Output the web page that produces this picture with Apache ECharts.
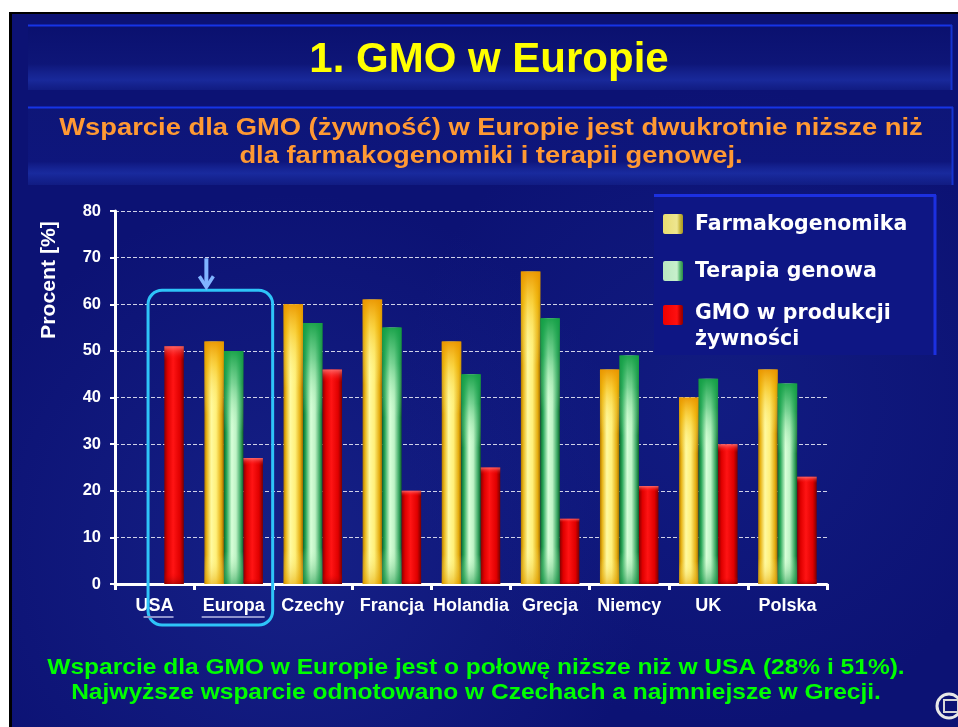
<!DOCTYPE html>
<html>
<head>
<meta charset="utf-8">
<script src="https://cdn.jsdelivr.net/npm/echarts@6/dist/echarts.min.js"></script>
<style>
html,body{margin:0;padding:0;background:#fff;}
#chart{width:958px;height:727px;}
</style>
</head>
<body>
<div id="chart"></div>
<script>
// ---- data ----
const categories = ['USA', 'Europa', 'Czechy', 'Francja', 'Holandia', 'Grecja', 'Niemcy', 'UK', 'Polska'];
const farmakogenomika = [null, 52, 60, 61, 52, 67, 46, 40, 46];
const terapiaGenowa = [null, 50, 56, 55, 45, 57, 49, 44, 43];
const gmoZywnosc = [51, 27, 46, 20, 25, 14, 21, 30, 23];
const seriesNames = ['Farmakogenomika', 'Terapia genowa', 'GMO w produkcji żywności'];
const legendLabels = ['Farmakogenomika', 'Terapia genowa', 'GMO w produkcji\nżywności'];
const titleText = '1. GMO w Europie';
const subtitleText = 'Wsparcie dla GMO (żywność) w Europie jest dwukrotnie niższe niż\ndla farmakogenomiki i terapii genowej.';
const footerText = 'Wsparcie dla GMO w Europie jest o połowę niższe niż w USA (28% i 51%).\nNajwyższe wsparcie odnotowano w Czechach a najmniejsze w Grecji.';
const yAxisName = 'Procent [%]';

const FONT = '"Liberation Sans", Arial, sans-serif';
const LFONT = '"DejaVu Sans", Verdana, sans-serif';

function hGrad(stops) {
  return new echarts.graphic.LinearGradient(0, 0, 1, 0, stops.map(c => ({offset: c[0], color: c[1]})));
}
function vGrad(stops) {
  return new echarts.graphic.LinearGradient(0, 0, 0, 1, stops.map(c => ({offset: c[0], color: c[1]})));
}

const yellowH = hGrad([[0, '#b07800'], [0.12, '#e8b418'], [0.35, '#fffaa0'], [0.6, '#fff07a'], [0.86, '#e4ac10'], [1, '#9a6a00']]);
const greenH = hGrad([[0, '#0b6a2c'], [0.14, '#2aa85a'], [0.4, '#d8ffd8'], [0.62, '#bff3c6'], [0.86, '#3aa864'], [1, '#0d5e28']]);
const redH = hGrad([[0, '#8a0000'], [0.18, '#e00000'], [0.45, '#ff1414'], [0.8, '#e00000'], [1, '#7a0000']]);

const yellowV = vGrad([[0, 'rgba(235,150,0,0.95)'], [0.1, 'rgba(245,185,10,0.55)'], [0.3, 'rgba(255,255,160,0)'], [0.88, 'rgba(255,255,160,0)'], [1, 'rgba(225,160,0,0.55)']]);
const greenV = vGrad([[0, 'rgba(20,160,70,0.95)'], [0.14, 'rgba(40,175,90,0.5)'], [0.35, 'rgba(200,255,200,0)'], [0.86, 'rgba(200,255,200,0)'], [1, 'rgba(30,150,75,0.6)']]);
const redV = vGrad([[0, 'rgba(255,130,130,0.75)'], [0.025, 'rgba(255,90,90,0.35)'], [0.06, 'rgba(255,0,0,0)'], [0.95, 'rgba(255,0,0,0)'], [1, 'rgba(120,0,0,0.5)']]);

const BW = 19.5;

function mainSeries(name, data, color) {
  return {
    name: name, type: 'bar', data: data, xAxisIndex: 0,
    barWidth: BW, barGap: '0%',
    itemStyle: {color: color, shadowColor: 'rgba(0,0,0,0.35)', shadowBlur: 3, shadowOffsetX: 2},
    z: 2
  };
}
function overlaySeries(data, color) {
  return {
    type: 'bar', data: data, xAxisIndex: 1, silent: true,
    barWidth: BW, barGap: '0%',
    itemStyle: {color: color},
    z: 3
  };
}

const chart = echarts.init(document.getElementById('chart'), null, {renderer: 'canvas'});

const bgGraphics = [
  // blue slide background
  {type: 'rect', z: -100, shape: {x: 12, y: 14, width: 946, height: 713}, style: {fill: '#0c1274'}},
  {type: 'rect', z: -100, shape: {x: 9, y: 12, width: 949, height: 2}, style: {fill: '#000'}},
  {type: 'rect', z: -100, shape: {x: 9, y: 12, width: 3, height: 715}, style: {fill: '#000'}},
  // texture blobs
  {type: 'rect', z: -99, shape: {x: 12, y: 14, width: 946, height: 713},
    style: {fill: new echarts.graphic.RadialGradient(0.3, 0.75, 0.5, [{offset: 0, color: 'rgba(40,60,170,0.35)'}, {offset: 1, color: 'rgba(40,60,170,0)'}])}},
  {type: 'rect', z: -99, shape: {x: 12, y: 14, width: 946, height: 713},
    style: {fill: new echarts.graphic.RadialGradient(0.75, 0.55, 0.45, [{offset: 0, color: 'rgba(30,50,160,0.3)'}, {offset: 1, color: 'rgba(30,50,160,0)'}])}},
  // title band
  {type: 'rect', z: -98, shape: {x: 28, y: 25, width: 924, height: 65},
    style: {fill: vGrad([[0, 'rgba(10,16,110,0.9)'], [0.6, 'rgba(14,22,120,0.9)'], [0.85, 'rgba(30,50,170,0.7)'], [1, 'rgba(20,34,140,0.6)']])}},
  {type: 'line', z: -97, shape: {x1: 28, y1: 25.5, x2: 952, y2: 25.5}, style: {stroke: '#1634e6', lineWidth: 2}},
  {type: 'line', z: -97, shape: {x1: 951.5, y1: 25, x2: 951.5, y2: 90}, style: {stroke: '#1634d0', lineWidth: 2}},
  // subtitle band
  {type: 'rect', z: -98, shape: {x: 28, y: 107, width: 925, height: 78},
    style: {fill: vGrad([[0, 'rgba(14,22,120,0.9)'], [0.7, 'rgba(14,22,125,0.9)'], [0.85, 'rgba(30,52,175,0.7)'], [1, 'rgba(20,34,140,0.6)']])}},
  {type: 'line', z: -97, shape: {x1: 28, y1: 107.5, x2: 953, y2: 107.5}, style: {stroke: '#1634e6', lineWidth: 2}},
  {type: 'line', z: -97, shape: {x1: 952.5, y1: 107, x2: 952.5, y2: 185}, style: {stroke: '#1634d0', lineWidth: 2}},
  // texts
  {type: 'text', z: 50, x: 489, y: 60, style: {text: titleText, fill: '#ffff00', font: 'bold 42px ' + FONT, align: 'center', verticalAlign: 'middle'}},
  {type: 'text', z: 50, x: 491, y: 142, scaleX: 1.14, style: {text: subtitleText, fill: '#ff9933', font: 'bold 24px ' + FONT, align: 'center', verticalAlign: 'middle', lineHeight: 28}},
  {type: 'text', z: 50, x: 476, y: 680, scaleX: 1.115, style: {text: footerText, fill: '#00ff00', font: 'bold 22px ' + FONT, align: 'center', verticalAlign: 'middle', lineHeight: 25}},
  {type: 'text', z: 50, x: 49, y: 280, rotation: Math.PI / 2, scaleX: 1.06, style: {text: yAxisName, fill: '#ffffff', font: 'bold 20px ' + FONT, align: 'center', verticalAlign: 'middle'}},
  // legend box
  {type: 'rect', z: 90, shape: {x: 654, y: 195, width: 281, height: 160}, style: {fill: '#0e1684'}},
  {type: 'line', z: 91, shape: {x1: 654, y1: 195.5, x2: 936, y2: 195.5}, style: {stroke: '#1c30e0', lineWidth: 3}},
  {type: 'line', z: 91, shape: {x1: 935, y1: 195, x2: 935, y2: 355}, style: {stroke: '#1c30e0', lineWidth: 3}},
  // logo
  {type: 'circle', z: 50, shape: {cx: 949, cy: 706, r: 12}, style: {fill: 'none', stroke: '#e8e8e8', lineWidth: 3}},
  {type: 'rect', z: 50, shape: {x: 944, y: 700, width: 14, height: 12}, style: {fill: 'none', stroke: '#d8d8d8', lineWidth: 2}}
];

// legend items
const legendIcons = [
  hGrad([[0, '#e8dc70'], [0.7, '#eee690'], [0.85, '#c8b840'], [1, '#a89820']]),
  hGrad([[0, '#b8e8c0'], [0.7, '#c8f0cc'], [0.85, '#58b870'], [1, '#2a8a48']]),
  hGrad([[0, '#ee0000'], [0.7, '#ff1010'], [0.85, '#c00000'], [1, '#900000']])
];
const legendIconY = [214, 261, 305];
const legendTextY = [225, 272, 314];
legendLabels.forEach((lab, i) => {
  bgGraphics.push({type: 'rect', z: 92, shape: {x: 663, y: legendIconY[i], width: 20, height: 20, r: 2}, style: {fill: legendIcons[i]}});
  bgGraphics.push({type: 'text', z: 92, x: 695, y: legendTextY[i] - 13, style: {text: lab, fill: '#ffffff', font: 'bold 20.5px ' + LFONT, align: 'left', verticalAlign: 'top', lineHeight: 26}});
});

const option = {
  backgroundColor: '#ffffff',
  animation: false,
  textStyle: {fontFamily: FONT},
  grid: {left: 115, right: 131, top: 211, bottom: 143, containLabel: false},
  xAxis: [
    {
      type: 'category', data: categories, gridIndex: 0,
      axisLine: {lineStyle: {color: '#ffffff', width: 3}},
      axisTick: {show: true, interval: 0, length: 6, lineStyle: {color: '#ffffff', width: 3}},
      axisLabel: {interval: 0, color: '#ffffff', fontFamily: FONT, fontWeight: 'bold', fontSize: 18, margin: 13},
      splitLine: {show: false}
    },
    {type: 'category', data: categories, gridIndex: 0, show: false}
  ],
  yAxis: {
    type: 'value', min: 0, max: 80, interval: 10,
    axisLine: {show: true, lineStyle: {color: '#ffffff', width: 3}},
    axisTick: {show: true, length: 5, lineStyle: {color: '#ffffff', width: 2}},
    axisLabel: {color: '#ffffff', fontFamily: FONT, fontWeight: 'bold', fontSize: 16.5, margin: 14},
    splitLine: {show: true, lineStyle: {color: '#d0d2e8', width: 1, type: [4, 2]}}
  },
  legend: {show: false, data: seriesNames},
  series: [
    mainSeries(seriesNames[0], farmakogenomika, yellowH),
    mainSeries(seriesNames[1], terapiaGenowa, greenH),
    mainSeries(seriesNames[2], gmoZywnosc, redH),
    overlaySeries(farmakogenomika, yellowV),
    overlaySeries(terapiaGenowa, greenV),
    overlaySeries(gmoZywnosc, redV)
  ],
  graphic: {elements: bgGraphics}
};
chart.setOption(option);

// annotation: highlight box around USA & Europa, arrow, underlines (positioned from axis scale)
const cUSA = chart.convertToPixel({xAxisIndex: 0}, 'USA');
const cEur = chart.convertToPixel({xAxisIndex: 0}, 'Europa');
const yTop = chart.convertToPixel({yAxisIndex: 0}, 63);
const yZero = chart.convertToPixel({yAxisIndex: 0}, 0);
const boxL = cUSA - 6.5, boxR = cEur + 39;
const boxTop = yTop, boxBot = yZero + 41;
const arrowX = (boxL + boxR) / 2 - 4;
const annot = [
  {type: 'rect', z: 100, shape: {x: boxL, y: boxTop, width: boxR - boxL, height: boxBot - boxTop, r: 14}, style: {fill: 'none', stroke: '#2ec4f8', lineWidth: 3}},
  {type: 'line', z: 100, shape: {x1: arrowX, y1: boxTop - 32, x2: arrowX, y2: boxTop - 6}, style: {stroke: '#80b4ff', lineWidth: 4}},
  {type: 'polyline', z: 100, shape: {points: [[arrowX - 7, boxTop - 14], [arrowX, boxTop - 3], [arrowX + 7, boxTop - 14]]}, style: {fill: 'none', stroke: '#80b4ff', lineWidth: 3.5, lineJoin: 'miter'}},
  {type: 'line', z: 100, shape: {x1: cUSA - 11, y1: yZero + 33, x2: cUSA + 19, y2: yZero + 33}, style: {stroke: '#8e92cc', lineWidth: 2}},
  {type: 'line', z: 100, shape: {x1: cEur - 32, y1: yZero + 33, x2: cEur + 31, y2: yZero + 33}, style: {stroke: '#8e92cc', lineWidth: 2}}
];
chart.setOption({graphic: {elements: bgGraphics.concat(annot)}});
</script>
</body>
</html>
